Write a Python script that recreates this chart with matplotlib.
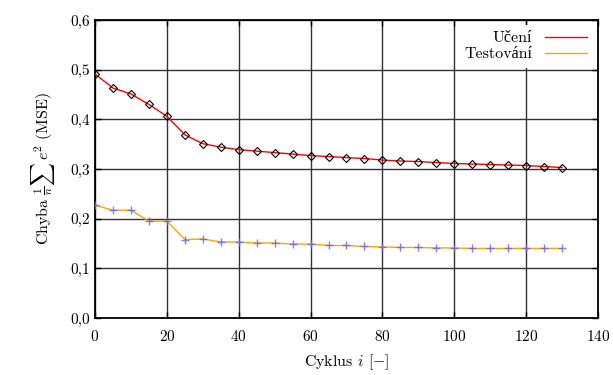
import matplotlib.pyplot as plt
import numpy as np
from matplotlib.ticker import FuncFormatter

plt.rcParams["font.family"] = ["cmr10", "Liberation Serif"]
plt.rcParams["mathtext.fontset"] = "cm"
plt.rcParams["axes.formatter.use_mathtext"] = True

# cycles (every 5th cycle is sampled)
cycles = np.arange(0, 135, 5)

# training error (Učení)
train_err = [0.491, 0.463, 0.451, 0.430, 0.406, 0.369, 0.351, 0.344, 0.339, 0.336,
             0.333, 0.330, 0.327, 0.325, 0.323, 0.321, 0.318, 0.316, 0.315, 0.313,
             0.311, 0.310, 0.309, 0.308, 0.307, 0.305, 0.303]

# test error (Testování)
test_err = [0.227, 0.217, 0.217, 0.195, 0.195, 0.158, 0.159, 0.153, 0.153, 0.151,
            0.151, 0.149, 0.149, 0.146, 0.146, 0.144, 0.143, 0.142, 0.142, 0.141,
            0.141, 0.140, 0.140, 0.140, 0.140, 0.140, 0.140]

x_ticks = np.arange(0, 141, 20)
y_ticks = np.arange(0, 0.61, 0.1)

fig = plt.figure(figsize=(6.13, 3.75), dpi=100)
ax = fig.add_axes([0.155, 0.152, 0.8205, 0.7947])

ax.plot(cycles, train_err, color="#ff0000", lw=1.0, label="Učení", zorder=3)
ax.plot(cycles, test_err, color="#ffa500", lw=1.0, label="Testování", zorder=3)
ax.plot(cycles, train_err, ls="none", marker="D", ms=3.8, mfc="none",
        mec="black", mew=0.8, zorder=4)
ax.plot(cycles, test_err, ls="none", marker="+", ms=6, mec="#6060ff",
        mew=1.0, alpha=0.8, zorder=4)

ax.set_xlim(0, 140)
ax.set_ylim(0, 0.6)
ax.set_xticks(x_ticks)
ax.set_yticks(y_ticks)
ax.yaxis.set_major_formatter(FuncFormatter(lambda v, p: f"{v:.1f}".replace(".", ",")))
ax.tick_params(direction="in", length=4, width=1, top=True, right=True,
               labelsize=11, colors="black")
ax.tick_params(axis="x", pad=8)
ax.grid(True, color="#333333", lw=1.0)
for s in ax.spines.values():
    s.set_linewidth(1.3)

ax.set_xlabel(r"Cyklus $i$ [$-$]", fontsize=11.5, labelpad=6)
ax.set_ylabel(r"Chyba $\frac{1}{n}\sum\, e^2$ (MSE)", fontsize=11.5, labelpad=10)

leg = ax.legend(loc="upper right", frameon=True, markerfirst=False, fontsize=11.5,
                handlelength=2.6, borderaxespad=0.3, labelspacing=0.1)
leg.get_frame().set_edgecolor("none")
leg.get_frame().set_facecolor("white")
leg.get_frame().set_alpha(1.0)
leg.set_zorder(5)
for t in leg.get_texts():
    t.set_ha("right")

fig.savefig("out.png", dpi=100)
